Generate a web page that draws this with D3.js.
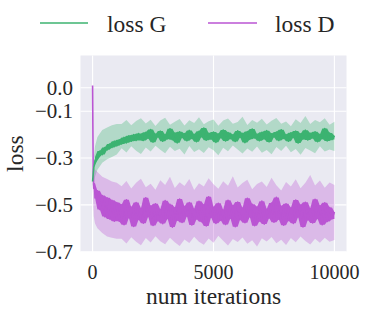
<!DOCTYPE html>
<html><head><meta charset="utf-8">
<script src="https://cdn.jsdelivr.net/npm/d3@7"></script>
<style>
body{margin:0;background:#fff}
svg{display:block}
</style>
</head><body>
<svg id="chart" width="366" height="311"></svg>
<script>
const seriesNames = ["loss G", "loss D"];
const seriesColors = ["#3cb371", "#ba55d3"];
const xTicks = [0, 5000, 10000];
const yTicks = [0.0, -0.1, -0.3, -0.5, -0.7];

// sampling grid of iterations for the lines
const iters = [0, 25, 50, 75, ...d3.range(100, 10001, 100)];
const lossG = [
  -0.40, -0.37, -0.34, -0.33, -0.31, -0.295, -0.27, -0.285, -0.255, -0.265,
  -0.24, -0.255, -0.228, -0.248, -0.222, -0.24, -0.212, -0.235, -0.205, -0.228,
  -0.2, -0.225, -0.195, -0.22,
  -0.225, -0.19, -0.215, -0.178, -0.232, -0.198, -0.21, -0.185, -0.228, -0.2,
  -0.218, -0.175, -0.222, -0.193, -0.235, -0.188, -0.212, -0.196, -0.226, -0.182,
  -0.216, -0.199, -0.23, -0.186, -0.209, -0.172, -0.224, -0.194, -0.219, -0.189,
  -0.233, -0.197, -0.213, -0.18, -0.227, -0.191, -0.217, -0.201, -0.229, -0.184,
  -0.211, -0.195, -0.234, -0.187, -0.22, -0.176, -0.214, -0.198, -0.226, -0.19,
  -0.218, -0.183, -0.231, -0.196, -0.21, -0.189, -0.225, -0.179, -0.216, -0.2,
  -0.228, -0.192, -0.212, -0.185, -0.236, -0.197, -0.219, -0.181, -0.223, -0.194,
  -0.214, -0.188, -0.23, -0.199, -0.217, -0.174, -0.227, -0.193, -0.221, -0.205
];
const lossD = [
  0.01, -0.36, -0.43, -0.41, -0.47, -0.44, -0.52, -0.46, -0.55, -0.47,
  -0.56, -0.48, -0.57, -0.49,
  -0.57, -0.50, -0.585, -0.478, -0.555, -0.51, -0.592, -0.49, -0.562, -0.515,
  -0.578, -0.47, -0.55, -0.505, -0.588, -0.495, -0.568, -0.52, -0.58, -0.482,
  -0.558, -0.498, -0.595, -0.512, -0.565, -0.475, -0.575, -0.507, -0.548, -0.49,
  -0.586, -0.518, -0.56, -0.485, -0.572, -0.5, -0.59, -0.465, -0.553, -0.51,
  -0.579, -0.493, -0.566, -0.522, -0.584, -0.48, -0.557, -0.503, -0.593, -0.488,
  -0.563, -0.514, -0.576, -0.472, -0.551, -0.497, -0.589, -0.509, -0.569, -0.484,
  -0.582, -0.519, -0.556, -0.492, -0.574, -0.468, -0.561, -0.506, -0.587, -0.495,
  -0.567, -0.513, -0.579, -0.479, -0.552, -0.501, -0.594, -0.489, -0.564, -0.516,
  -0.577, -0.476, -0.558, -0.504, -0.585, -0.491, -0.571, -0.511, -0.56, -0.53
];

// sampling grid of iterations for the shaded spread bands
const bandIters = [0, 50, 100, ...d3.range(200, 10001, 200)];
const gHi = [
  -0.37, -0.30, -0.25, -0.21, -0.18, -0.17, -0.16, -0.155,
  -0.155, -0.138, -0.16, -0.142, -0.13, -0.152, -0.136, -0.163, -0.14, -0.128,
  -0.158, -0.145, -0.133, -0.161, -0.139, -0.15, -0.126, -0.156, -0.143, -0.135,
  -0.162, -0.14, -0.131, -0.154, -0.146, -0.124, -0.159, -0.137, -0.149, -0.132,
  -0.157, -0.141, -0.129, -0.153, -0.144, -0.164, -0.134, -0.15, -0.12, -0.155,
  -0.138, -0.147, -0.13, -0.158, -0.145
];
const gLo = [
  -0.42, -0.40, -0.38, -0.35, -0.32, -0.305, -0.295, -0.285,
  -0.258, -0.276, -0.25, -0.269, -0.283, -0.255, -0.272, -0.247, -0.265, -0.28,
  -0.252, -0.27, -0.26, -0.285, -0.249, -0.274, -0.262, -0.278, -0.254, -0.267,
  -0.288, -0.256, -0.271, -0.246, -0.264, -0.281, -0.259, -0.273, -0.251, -0.277,
  -0.266, -0.284, -0.253, -0.27, -0.248, -0.275, -0.261, -0.286, -0.257, -0.268,
  -0.279, -0.25, -0.272, -0.263, -0.27
];
const dHi = [
  -0.33, -0.34, -0.35, -0.36, -0.38, -0.39, -0.40, -0.405,
  -0.42, -0.398, -0.43, -0.405, -0.388, -0.425, -0.41, -0.435, -0.395, -0.415,
  -0.38, -0.428, -0.403, -0.419, -0.39, -0.437, -0.408, -0.422, -0.386, -0.412,
  -0.431, -0.399, -0.418, -0.378, -0.426, -0.407, -0.393, -0.433, -0.411, -0.4,
  -0.424, -0.384, -0.416, -0.439, -0.402, -0.421, -0.391, -0.429, -0.406, -0.372,
  -0.417, -0.396, -0.427, -0.404, -0.415
];
const dLo = [
  -0.42, -0.55, -0.58, -0.60, -0.62, -0.635, -0.64, -0.645,
  -0.645, -0.665, -0.638, -0.658, -0.672, -0.642, -0.661, -0.634, -0.655, -0.668,
  -0.64, -0.66, -0.676, -0.648, -0.663, -0.636, -0.657, -0.67, -0.644, -0.662,
  -0.632, -0.653, -0.674, -0.646, -0.659, -0.639, -0.666, -0.651, -0.678, -0.643,
  -0.656, -0.637, -0.664, -0.649, -0.671, -0.641, -0.66, -0.635, -0.654, -0.669,
  -0.645, -0.662, -0.64, -0.658, -0.65
];

const FONT = '"Liberation Serif"';
const svg = d3.select("#chart");
const L = 80.5, R = 346.5, T = 55.5, B = 251.7;
const x = d3.scaleLinear().domain([-500, 10500]).range([L, R]);
const y = d3.scaleLinear().domain([-0.7, 0.138]).range([B, T]);

svg.append("rect").attr("x", L).attr("y", T).attr("width", R - L).attr("height", B - T).attr("fill", "#eaeaf2");
svg.append("clipPath").attr("id", "clip").append("rect")
  .attr("x", L).attr("y", T).attr("width", R - L).attr("height", B - T);

// grid
const grid = svg.append("g").attr("stroke", "#fff").attr("stroke-width", 1.1);
grid.selectAll(".vx").data(xTicks).join("line")
  .attr("x1", d => x(d)).attr("x2", d => x(d)).attr("y1", T).attr("y2", B);
grid.selectAll(".hy").data(yTicks).join("line")
  .attr("x1", L).attr("x2", R).attr("y1", d => y(d)).attr("y2", d => y(d));

const plot = svg.append("g").attr("clip-path", "url(#clip)");

// light spread bands
const bands = [
  {hi: gHi, lo: gLo, color: seriesColors[0]},
  {hi: dHi, lo: dLo, color: seriesColors[1]}
];
const area = d3.area().x(d => x(d.i)).y0(d => y(d.lo)).y1(d => y(d.hi));
bands.forEach(b => {
  const pts = bandIters.map((it, k) => ({i: it, hi: b.hi[k], lo: b.lo[k]}));
  plot.append("path").attr("d", area(pts)).attr("fill", b.color).attr("fill-opacity", 0.32).attr("stroke", "none");
});

// noisy loss curves: fill the local extent of the curve (dense raw curve), then the curve itself
const line = d3.line().x(d => x(d.i)).y(d => y(d.v));
const lines = [
  {vals: lossD, color: seriesColors[1]},
  {vals: lossG, color: seriesColors[0]}
];
lines.forEach(s => {
  const pts = iters.map((it, k) => {
    const win = s.vals.slice(Math.max(0, k - 1), Math.min(s.vals.length, k + 2));
    const [lo, hi] = d3.extent(win);
    return {i: it, v: s.vals[k], lo, hi};
  });
  const envPts = pts.filter(p => p.i >= 100);
  plot.append("path").attr("d", area(envPts)).attr("fill", s.color).attr("stroke", "none");
  plot.append("path").attr("d", line(pts)).attr("fill", "none").attr("stroke", s.color)
    .attr("stroke-width", 1.6).attr("stroke-linejoin", "round");
});

// axes labels (seaborn darkgrid: no ticks, no spines)
const fmt = d3.format(".1f");
const txt = (g) => g.style("font-family", FONT).attr("fill", "#262626");
svg.append("g").selectAll("text").data(yTicks).join("text").call(txt)
  .attr("x", 73).attr("y", d => y(d)).attr("dy", "0.34em")
  .attr("text-anchor", "end").attr("font-size", 21).text(d => fmt(d).replace("-", "\u2212"));
svg.append("g").selectAll("text").data(xTicks).join("text").call(txt)
  .attr("x", d => x(d)).attr("y", 278.5)
  .attr("text-anchor", "middle").attr("font-size", 20).text(d => d);
svg.append("text").call(txt).attr("x", (L + R) / 2).attr("y", 303.5).attr("text-anchor", "middle")
  .attr("font-size", 23.5).text("num iterations");
svg.append("text").call(txt).attr("transform", `translate(22.7,${(T + B) / 2}) rotate(-90)`)
  .attr("text-anchor", "middle").attr("font-size", 23.5).text("loss");

// legend
const legendPos = [{x1: 40, x2: 88, tx: 107}, {x1: 208, x2: 257, tx: 275}];
seriesNames.forEach((n, k) => {
  const p = legendPos[k];
  svg.append("line").attr("x1", p.x1).attr("x2", p.x2).attr("y1", 23).attr("y2", 23)
    .attr("stroke", seriesColors[k]).attr("stroke-width", 1.5);
  svg.append("text").call(txt).attr("x", p.tx).attr("y", 32).attr("font-size", 23.5).text(n);
});
</script>
</body></html>
